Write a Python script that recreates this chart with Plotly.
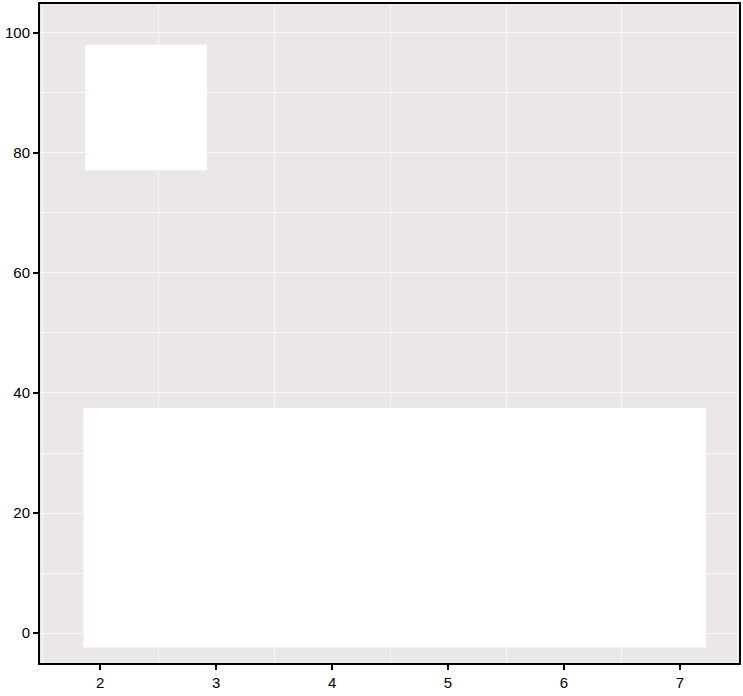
import plotly.graph_objects as go

# white rectangles (data coords)
rect_x0 = [1.855, 1.87]
rect_x1 = [7.225, 2.92]
rect_y0 = [-2.4, 77.1]
rect_y1 = [37.5, 98.0]

x_ticks = [2, 3, 4, 5, 6, 7]
y_ticks = [0, 20, 40, 60, 80, 100]

fig = go.Figure()
for x0, x1, y0, y1 in zip(rect_x0, rect_x1, rect_y0, rect_y1):
    fig.add_trace(go.Scatter(x=[x0, x1, x1, x0, x0],
                             y=[y0, y0, y1, y1, y0],
                             mode='lines',
                             fill='toself',
                             fillcolor='white',
                             line=dict(width=0),
                             hoverinfo='skip'))

fig.update_layout(width=743, height=696,
                  margin=dict(l=40, r=2, t=2, b=33),
                  plot_bgcolor='rgb(235,231,230)',
                  paper_bgcolor='white',
                  showlegend=False,
                  font=dict(family='Liberation Sans, Arial', size=15, color='black'))
fig.update_xaxes(range=[1.48, 7.51], tickvals=x_ticks, showgrid=False,
                 zeroline=False, showline=True, linecolor='black', linewidth=2,
                 mirror=True, ticks='outside', ticklen=5, tickwidth=1.5,
                 tickcolor='black',
                 minor=dict(tickvals=[1.5, 2.5, 3.5, 4.5, 5.5, 6.5, 7.5],
                            showgrid=True, gridcolor='rgb(248,247,247)',
                            gridwidth=1))
fig.update_yaxes(range=[-4.98, 104.8], tickvals=y_ticks,
                 showgrid=True, gridcolor='rgb(248,247,247)', gridwidth=1,
                 zeroline=False, showline=True, linecolor='black', linewidth=2,
                 mirror=True, ticks='outside', ticklen=5, tickwidth=1.5,
                 tickcolor='black',
                 minor=dict(dtick=10, showgrid=True,
                            gridcolor='rgb(248,247,247)', gridwidth=1))

fig.write_html("out.html", config={'displayModeBar': False},
               post_script="document.body.style.margin='0';")
